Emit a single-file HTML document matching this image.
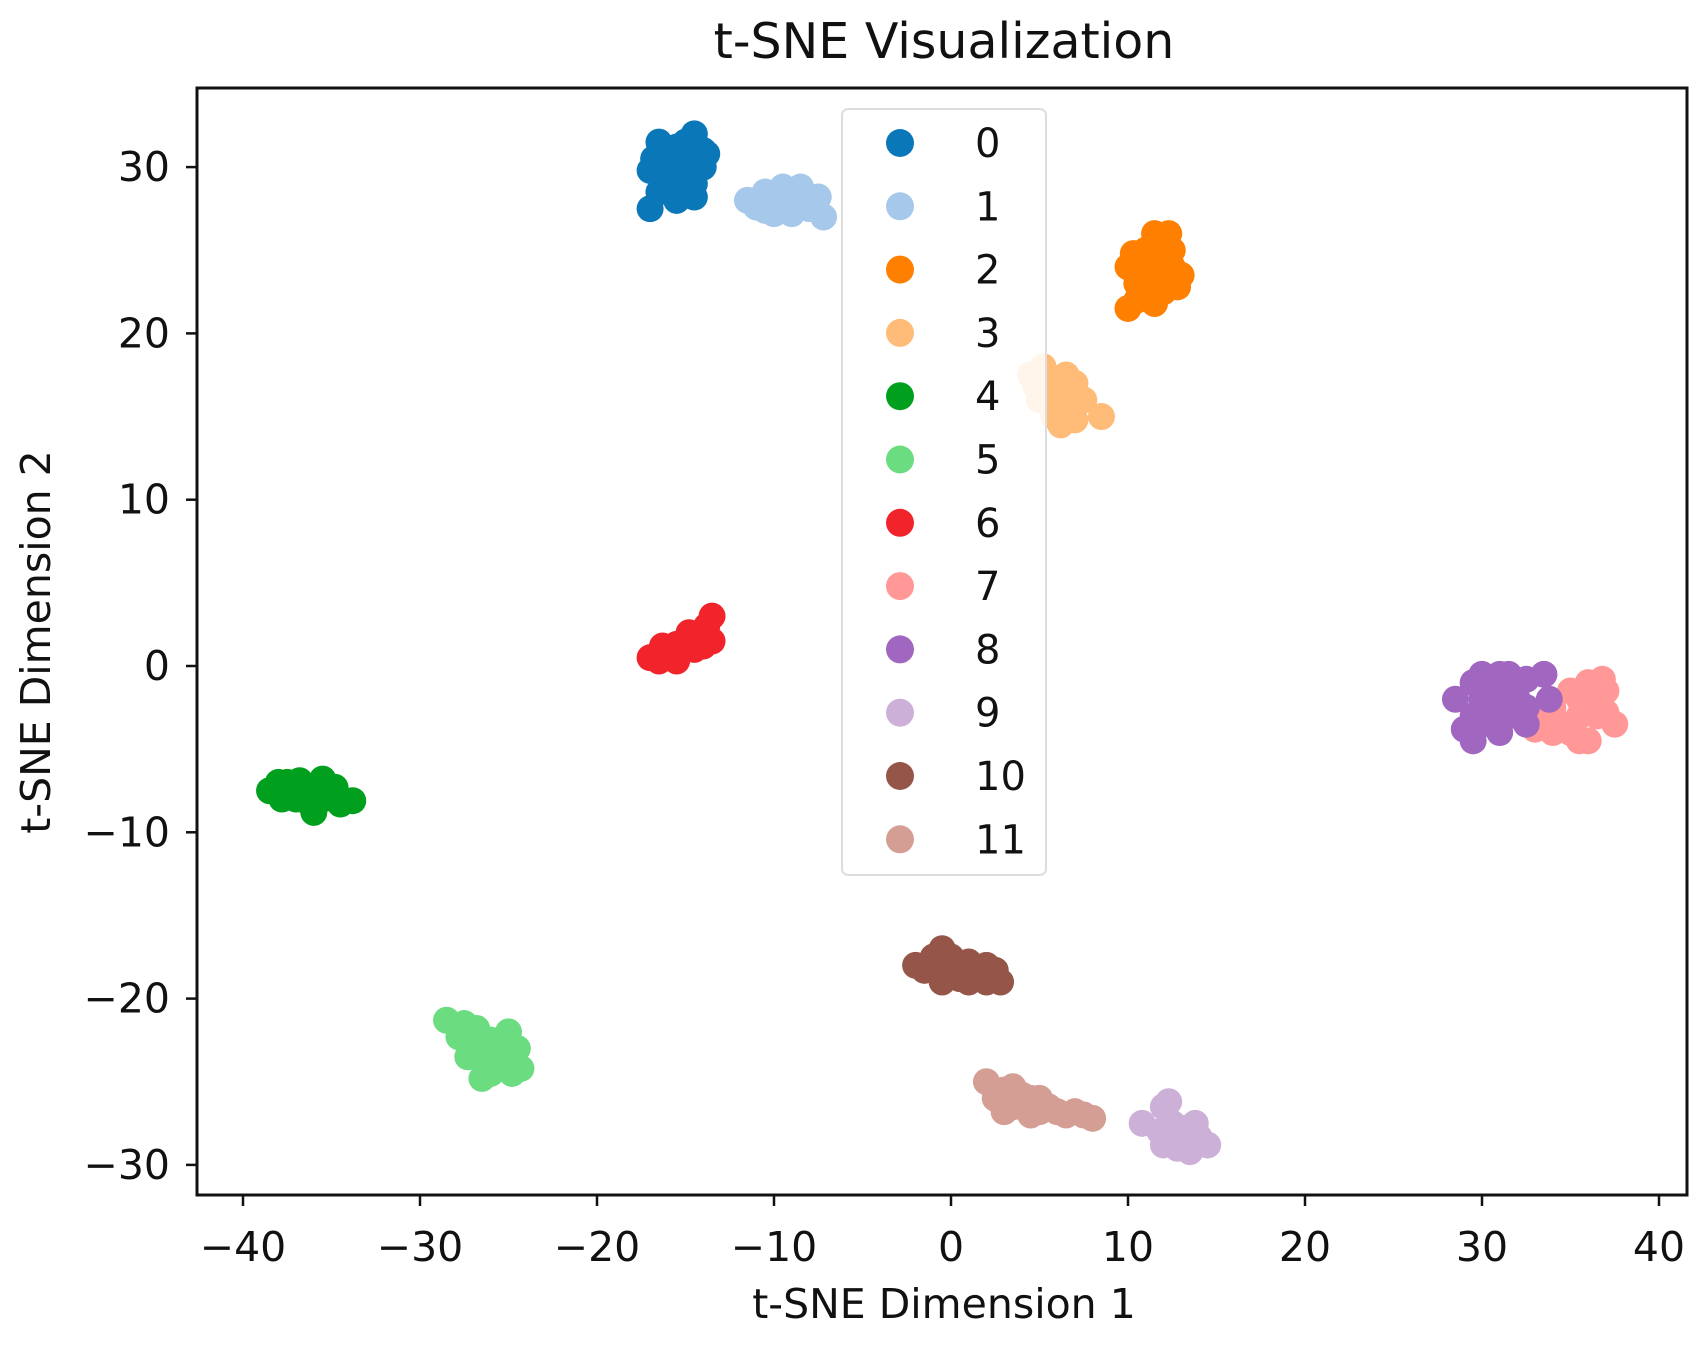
<!DOCTYPE html>
<html><head><meta charset="utf-8"><style>
html,body{margin:0;padding:0;background:#fff;}
svg{display:block;font-family:"DejaVu Sans","Liberation Sans",sans-serif;}
</style></head><body>
<svg id="chart" width="1706" height="1346" viewBox="0 0 1706 1346" xmlns="http://www.w3.org/2000/svg">
<text x="944" y="58" font-size="49" text-anchor="middle" fill="#111">t-SNE Visualization</text>
<g id="points"></g>
<rect x="197" y="88" width="1490" height="1107" fill="none" stroke="#111" stroke-width="3"/>
<g id="xticks"></g>
<g id="yticks"></g>
<text x="944" y="1318" font-size="41" text-anchor="middle" fill="#111">t-SNE Dimension 1</text>
<text transform="translate(50,642) rotate(-90)" font-size="41" text-anchor="middle" fill="#111">t-SNE Dimension 2</text>
<g id="legend">
<rect x="842" y="109" width="204" height="766" rx="6" fill="#fff" fill-opacity="0.85" stroke="#ddd" stroke-width="2"/>
</g>
</svg>
<script>
const labels=["0","1","2","3","4","5","6","7","8","9","10","11"];
const colors=["#0a77b8","#a6c8ea","#ff7f00","#ffbb78","#00a01e","#6cdc80","#f0242a","#ff9896","#a066c0","#cdb0d8","#955548","#d49e94"];
const xTicks=[-40,-30,-20,-10,0,10,20,30,40];
const yTicks=[-30,-20,-10,0,10,20,30];
const c0=[[-17,29.8],[-16.5,28.5],[-17,27.5],[-16,31],[-15,31.5],[-14.5,32],[-14,31],[-14,30],[-15,29],[-16,30],[-15.5,28],[-14.5,28.2],[-13.8,30.8],[-16.8,30.5],[-15.5,30.5],[-16,29],[-15,30],[-14.5,29],[-16.5,31.5],[-15.5,31.2],[-14.8,30.5]];
const c1=[[-11.5,28],[-10.5,28.5],[-10,27.2],[-9.5,28.8],[-8.5,28.3],[-8,27.5],[-7.5,28.2],[-7.2,27],[-9,27.8],[-11,27.6],[-10,28],[-9,27.2],[-8.5,28.8],[-10.5,27.4]];
const c2=[[10,24],[10.5,22],[10,21.5],[11,25],[11.5,26],[12,25],[12.5,24],[13,23.5],[12,22.5],[11.5,21.8],[10.8,23],[12.3,26],[11,24],[12,24],[10.5,23],[11.5,23],[12.5,25],[11,22.5],[12.8,22.8],[10.3,24.8]];
const c3=[[4.5,17.5],[5.2,18],[5,16],[5.8,15],[6,16.5],[7,17],[6.8,15.5],[7.5,16],[8.5,15],[6.2,14.5],[5.5,17],[6.5,17.5],[5.8,16],[7,14.8],[4.8,16.8]];
const c4=[[-38.5,-7.5],[-37.5,-7],[-37,-8],[-36.5,-7.3],[-36,-8.8],[-35.5,-6.8],[-35,-7.8],[-34.5,-8.3],[-33.8,-8.1],[-36,-7.5],[-37.8,-8],[-36.8,-6.9],[-35.5,-8],[-34.8,-7.3],[-38,-7],[-36.3,-8.2]];
const c5=[[-28.5,-21.3],[-27.5,-21.5],[-27,-22.5],[-26.5,-23.5],[-26,-24.5],[-25,-22],[-24.5,-23],[-24.3,-24.2],[-25.5,-24],[-27.3,-23.5],[-26,-22.5],[-26.8,-21.8],[-25.5,-23],[-26.5,-24.8],[-27.8,-22.3],[-24.8,-24.5]];
const c6=[[-17,0.5],[-16,0.8],[-15.5,0.3],[-15,1.5],[-14.5,1],[-14,2],[-13.5,3],[-13.5,1.5],[-14.8,2],[-16.3,1.2],[-15.5,1.3],[-14,1.2],[-16.5,0.3],[-13.8,2.4]];
const c7=[[33,-3.8],[34,-2.5],[35,-1.5],[35.5,-3],[36,-1],[36.5,-2],[37,-1.5],[37.5,-3.5],[36,-4.5],[35,-4],[34.5,-3.5],[36.5,-3],[35.5,-2],[34,-4],[37,-2.8],[35.5,-4.5],[36.8,-0.8],[33.8,-3]];
const c8=[[28.5,-2],[29.5,-1],[30,-0.5],[30.5,-2.5],[31,-1.5],[31.5,-0.5],[32,-2],[32.5,-0.8],[33.5,-0.5],[33.8,-2],[30,-3.5],[29.5,-4.5],[31,-4],[32.5,-3.5],[29.5,-3],[30.5,-1.2],[31.5,-3],[30,-2],[31,-0.5],[32.5,-2.5],[29,-3.8]];
const c9=[[10.8,-27.5],[12,-26.5],[12.5,-27.5],[13,-28.5],[13.8,-27.5],[14.5,-28.8],[12.8,-29],[11.8,-28],[13.5,-29.2],[12.3,-26.2],[13.2,-27.8],[12,-28.8],[14,-28.3]];
const c10=[[-2,-18],[-1,-17.5],[-0.5,-17],[0,-18.5],[0.5,-18],[1,-17.8],[1.5,-18.5],[2,-18],[2.5,-18.3],[2.8,-19],[-0.5,-19],[1,-19],[0,-17.5],[-1.5,-18.3],[2,-19],[0.5,-18.8]];
const c11=[[2,-25],[2.5,-26],[3,-25.5],[3.5,-26.5],[4,-25.8],[4.5,-27],[5,-26],[5.5,-26.5],[6,-26.8],[6.5,-27],[7.5,-27],[8,-27.2],[3,-26.8],[4.5,-26],[3.5,-25.3],[5,-26.8],[7,-26.8],[2.5,-25.5],[4,-26.5]];
const clusters=[c0,c1,c2,c3,c4,c5,c6,c7,c8,c9,c10,c11];

const NS="http://www.w3.org/2000/svg";
const X=v=>951+v*17.7;
const Y=v=>666-v*16.63;
function mk(tag,attrs,parent){const e=document.createElementNS(NS,tag);for(const k in attrs)e.setAttribute(k,attrs[k]);parent.appendChild(e);return e;}
const gp=document.getElementById('points');
clusters.forEach((pts,ci)=>{pts.forEach(p=>{
  const c=mk('circle',{cx:X(p[0]),cy:Y(p[1]),r:13.5,fill:colors[ci]},gp);
  
  
});});
const gx=document.getElementById('xticks');
xTicks.forEach(t=>{
  const l=mk('line',{x1:X(t),x2:X(t),y1:1195,y2:1206,stroke:'#111','stroke-width':2.5},gx);
  
  
  const s=mk('text',{x:X(t),y:1261,'font-size':41,'text-anchor':'middle',fill:'#111'},gx);
  s.textContent=(t<0?'\u2212'+(-t):t);
  
  
});
const gy=document.getElementById('yticks');
yTicks.forEach(t=>{
  const l=mk('line',{x1:186,x2:197,y1:Y(t),y2:Y(t),stroke:'#111','stroke-width':2.5},gy);
  
  
  const s=mk('text',{x:170,y:Y(t)+14,'font-size':41,'text-anchor':'end',fill:'#111'},gy);
  s.textContent=(t<0?'\u2212'+(-t):t);
  
  
});
const gl=document.getElementById('legend');
labels.forEach((lb,i)=>{
  const y=143+i*63.3;
  const c=mk('circle',{cx:900,cy:y,r:14,fill:colors[i]},gl);
  
  
  const s=mk('text',{x:975,y:y+14,'font-size':40,fill:'#111'},gl);
  s.textContent=lb;
  
  
});
</script>
</body></html>
